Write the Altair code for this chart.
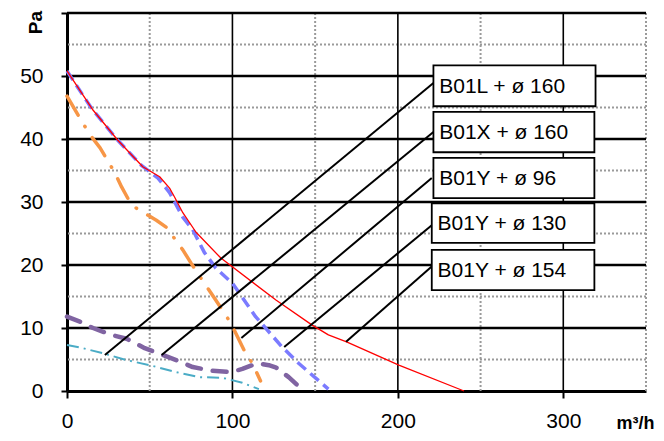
import altair as alt
import pandas as pd

# ---------------- data ----------------
cyan_x = [0, 9.6, 23, 36, 50, 66, 80, 94, 106, 116]
cyan_y = [7.3, 6.8, 5.9, 4.9, 4.1, 3.0, 2.2, 2.1, 1.3, 0.3]

purple_x = [0, 7.8, 15.7, 27, 36, 47, 56, 66, 76, 88, 99, 106, 115, 122, 126.5, 134, 139]
purple_y = [11.8, 11.0, 10.0, 8.9, 8.3, 6.8, 5.9, 4.9, 3.8, 3.2, 3.0, 3.5, 4.4, 4.1, 3.7, 2.2, 1.0]

orange_x = [0, 9.6, 15, 20, 29, 33, 38, 42, 54, 60, 70, 75, 81, 90, 95, 99, 107, 112, 117]
orange_y = [46.8, 42.5, 40.3, 38.6, 34.6, 32.4, 30.0, 29.0, 27.1, 26.0, 22.4, 20.3, 17.9, 14.4, 12.4, 10.8, 6.5, 4.4, 1.6]

blue_x = [0, 15, 30, 45, 55, 62, 70, 76, 83, 90, 100, 114, 130, 140, 158]
blue_y = [50.8, 44.8, 40.0, 35.8, 33.8, 31.5, 27.6, 25.6, 22.0, 19.5, 17.1, 11.8, 7.0, 4.4, 0.3]

red_x = [0, 15.7, 30.7, 45.8, 56, 62, 65, 70, 78, 93, 126.5, 148, 158, 169, 200.6, 240]
red_y = [50.8, 44.6, 39.8, 35.6, 34.0, 32.2, 30.8, 28.3, 25.2, 21.1, 14.4, 10.5, 8.9, 7.8, 4.1, 0]

labels = ["B01L + ø 160", "B01X + ø 160", "B01Y + ø 96", "B01Y + ø 130", "B01Y + ø 154"]
# label anchors (data units): leader start on curve, leader end at box, box extents
lead_x = [22.9, 57.2, 105.4, 131.3, 168.7]
lead_y = [5.7, 5.7, 8.4, 7.0, 7.8]
lead_x2 = [221.5, 221.5, 220.5, 220.5, 221.5]
lead_y2 = [48.9, 41.1, 33.8, 26.3, 20.0]
box_bottom = [45.2, 37.9, 30.6, 23.5, 16.0]
box_top = [51.7, 44.3, 37.0, 29.8, 22.4]
box_left = [221.5, 221.5, 221.5, 220.5, 220.5]
box_right = [319.5, 318.8, 318.8, 318.8, 318.8]
text_x = [225.0, 225.0, 225.0, 224.0, 224.0]

x_ticks = [0, 100, 200, 300]
y_ticks = [0, 10, 20, 30, 40, 50, 60]
x_major = [100, 200, 300]
y_major = [10, 20, 30, 40, 50, 60]
x_minor = [50, 150, 250, 350]
y_minor = [5, 15, 25, 35, 45, 55]

# ---------------- chart ----------------
xs = alt.Scale(domain=[0, 350], nice=False, zero=False)
ys = alt.Scale(domain=[0, 60], nice=False, zero=False)

FONT = "Liberation Sans"

x_axis = alt.Axis(values=x_ticks, grid=False, domain=True, domainColor="black", domainWidth=3,
                  ticks=True, tickColor="black", tickWidth=2, tickSize=7,
                  labelFont=FONT, labelFontSize=21, labelColor="black", labelPadding=12,
                  labelFlush=False, labelOverlap=False,
                  title="m³/h", titleFont=FONT, titleFontSize=18, titleFontWeight="bold",
                  titleX=568, titleY=37, titleAlign="center", titleBaseline="alphabetic",
                  titleAnchor="start")
y_axis = alt.Axis(values=y_ticks, grid=False, domain=True, domainColor="black", domainWidth=3,
                  ticks=True, tickColor="black", tickWidth=2, tickSize=6,
                  labelFont=FONT, labelFontSize=21, labelColor="black", labelPadding=18,
                  labelExpr="datum.value == 60 ? '' : datum.label",
                  labelFlush=False, labelOverlap=False,
                  title="Pa", titleFont=FONT, titleFontSize=19, titleFontWeight="bold",
                  titleAngle=270, titleX=-32, titleY=9, titleAlign="center", titleBaseline="middle")

# gridlines
gx_minor = alt.Chart(pd.DataFrame({"v": x_minor})).mark_rule(
    color="#9a9a9a", strokeWidth=2, strokeDash=[2, 2]).encode(x=alt.X("v:Q", scale=xs, axis=x_axis))
gy_minor = alt.Chart(pd.DataFrame({"v": y_minor})).mark_rule(
    color="#9a9a9a", strokeWidth=2, strokeDash=[2, 2]).encode(y=alt.Y("v:Q", scale=ys, axis=y_axis))
gx_major = alt.Chart(pd.DataFrame({"v": x_major})).mark_rule(
    color="black", strokeWidth=1.6).encode(x=alt.X("v:Q", scale=xs))
gy_major = alt.Chart(pd.DataFrame({"v": y_major})).mark_rule(
    color="black", strokeWidth=2.5).encode(y=alt.Y("v:Q", scale=ys))


def curve(xv, yv, color, width, dash, cap="butt"):
    df = pd.DataFrame({"x": xv, "y": yv, "o": list(range(len(xv)))})
    props = dict(color=color, strokeWidth=width, strokeCap=cap, strokeJoin="round")
    if dash:
        props["strokeDash"] = dash
    return alt.Chart(df).mark_line(**props).encode(
        x=alt.X("x:Q", scale=xs), y=alt.Y("y:Q", scale=ys), order="o:Q")


c_cyan = curve(cyan_x, cyan_y, "#4bacc6", 2, [12, 5, 2, 5])
c_purple = curve(purple_x, purple_y, "#8064a2", 4.5, [14, 12], "round")
c_orange = curve(orange_x, orange_y, "#f79646", 3.5, [22, 13, 0.5, 13], "round")
c_blue = curve(blue_x, blue_y, "#7b7bff", 3.5, [11, 6])
c_red = curve(red_x, red_y, "#ff0000", 1.3, None)

ann = pd.DataFrame({"label": labels, "lx": lead_x, "ly": lead_y, "lx2": lead_x2, "ly2": lead_y2,
                    "bl": box_left, "br": box_right, "bb": box_bottom, "bt": box_top, "tx": text_x})
ann["tm"] = [(a + b) / 2 for a, b in zip(box_bottom, box_top)]

leaders = alt.Chart(ann).mark_rule(color="black", strokeWidth=2).encode(
    x=alt.X("lx:Q", scale=xs), y=alt.Y("ly:Q", scale=ys), x2="lx2:Q", y2="ly2:Q")
boxes = alt.Chart(ann).mark_rect(fill="white", stroke="black", strokeWidth=1.8).encode(
    x=alt.X("bl:Q", scale=xs), x2="br:Q", y=alt.Y("bb:Q", scale=ys), y2="bt:Q")
texts = alt.Chart(ann).mark_text(align="left", baseline="middle", font=FONT, fontSize=21,
                                 color="black", dy=1).encode(
    x=alt.X("tx:Q", scale=xs), y=alt.Y("tm:Q", scale=ys), text="label:N")

chart = alt.layer(gx_minor, gy_minor, gx_major, gy_major,
                  c_cyan, c_purple, c_orange, c_blue, c_red,
                  leaders, boxes, texts).properties(
    width=579, height=378,
    autosize=alt.AutoSizeParams(type="none"),
    padding={"left": 59, "top": 5, "right": 10, "bottom": 42},
    background="white",
).configure_view(strokeWidth=0)

chart.save("out.html", embed_options={"renderer": "svg", "actions": False})
